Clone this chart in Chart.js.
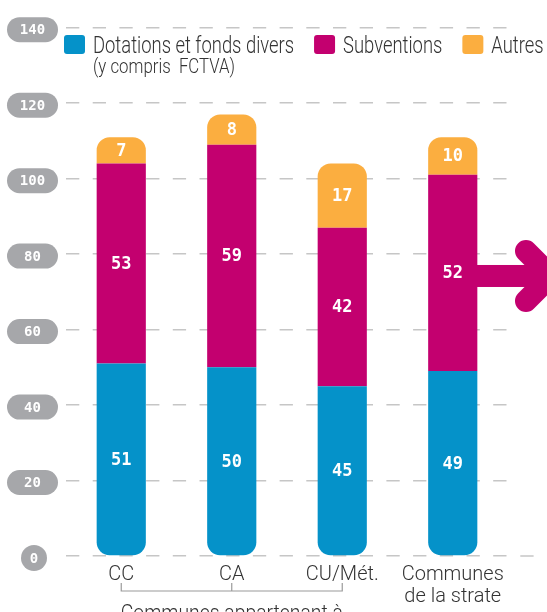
<!DOCTYPE html>
<html>
<head>
<meta charset="utf-8">
<script src="https://cdn.jsdelivr.net/npm/chart.js@4"></script>
<style>
  html, body { margin: 0; padding: 0; background: #fff; }
  #wrap { width: 547px; height: 612px; }
</style>
</head>
<body>
<div id="wrap"><canvas id="chart" width="547" height="612"></canvas></div>
<script>
// data
const categories = ['CC', 'CA', 'CU/Mét.', ['Communes', 'de la strate']];
const dotations = [51, 50, 45, 49];
const subventions = [53, 59, 42, 52];
const autres = [7, 8, 17, 10];
const seriesNames = ['Dotations et fonds divers', 'Subventions', 'Autres'];
const seriesNotes = ['(y compris  FCTVA)', '', ''];
const groupLabel = 'Communes appartenant à';
const yTicks = [0, 20, 40, 60, 80, 100, 120, 140];

const colors = {
    blue: '#0592c9',
    magenta: '#c3006f',
    orange: '#fbae40',
    pill: '#a6a7aa',
    grid: '#c6c6c6',
    text: '#333333'
};
const thinFont = 'Roboto, sans-serif';
const blockFont = '"DejaVu Sans Mono", monospace';

// draws text squeezed horizontally (the original face is a condensed one)
function narrowText(ctx, text, x, y, k) {
    ctx.save();
    ctx.translate(x, y);
    ctx.scale(k, 1);
    ctx.fillText(text, 0, 0);
    ctx.restore();
    return ctx.measureText(text).width * k;
}

// grey pill labels on the y axis
const pillTicks = {
    id: 'pillTicks',
    afterDraw(chart) {
        const ctx = chart.ctx;
        const y = chart.scales.y;
        ctx.save();
        yTicks.forEach((v) => {
            const py = y.getPixelForValue(v) + 2;
            const w = v === 0 ? 26 : 51;
            const h = v === 0 ? 26 : 25;
            const cx = v === 0 ? 34 : 32.5;
            ctx.fillStyle = colors.pill;
            ctx.beginPath();
            ctx.roundRect(cx - w / 2, py - h / 2, w, h, h / 2);
            ctx.fill();
            ctx.fillStyle = '#fff';
            ctx.font = 'bold 14px ' + blockFont;
            ctx.textAlign = 'center';
            ctx.textBaseline = 'middle';
            ctx.fillText(String(v), cx, py + 1);
        });
        // the zero line runs one dash further to the right
        const p0 = y.getPixelForValue(0);
        ctx.strokeStyle = colors.grid;
        ctx.lineWidth = 1.5;
        ctx.beginPath();
        ctx.moveTo(520.3, p0);
        ctx.lineTo(533.6, p0);
        ctx.stroke();
        ctx.restore();
    }
};

// white values inside each segment
const segmentValues = {
    id: 'segmentValues',
    afterDatasetsDraw(chart) {
        const ctx = chart.ctx;
        ctx.save();
        ctx.fillStyle = '#fff';
        ctx.font = 'bold 17px ' + blockFont;
        ctx.textAlign = 'center';
        ctx.textBaseline = 'middle';
        chart.data.datasets.forEach((ds, i) => {
            chart.getDatasetMeta(i).data.forEach((bar, j) => {
                const cy = (bar.y + bar.base) / 2;
                ctx.fillText(String(ds.data[j]), bar.x, cy + 1);
            });
        });
        ctx.restore();
    }
};

// magenta arrow leaving the last bar
const arrow = {
    id: 'arrow',
    afterDatasetsDraw(chart) {
        const ctx = chart.ctx;
        const bar = chart.getDatasetMeta(1).data[3];
        const x0 = bar.x + bar.width / 2 - 1;
        const cy = (bar.y + bar.base) / 2 + 3;
        const tip = chart.width + 4;
        ctx.save();
        ctx.fillStyle = colors.magenta;
        ctx.fillRect(x0, cy - 11, tip - x0, 22);
        ctx.strokeStyle = colors.magenta;
        ctx.lineWidth = 22;
        ctx.lineCap = 'round';
        ctx.lineJoin = 'round';
        ctx.beginPath();
        ctx.moveTo(tip - 25, cy - 25);
        ctx.lineTo(tip, cy);
        ctx.lineTo(tip - 25, cy + 25);
        ctx.stroke();
        ctx.restore();
    }
};

// legend at the top and bracket under the first three bars
const extras = {
    id: 'extras',
    afterDraw(chart) {
        const ctx = chart.ctx;
        ctx.save();
        ctx.textAlign = 'left';
        ctx.textBaseline = 'alphabetic';
        let x = 64;
        chart.data.datasets.forEach((ds, i) => {
            ctx.fillStyle = ds.backgroundColor;
            ctx.beginPath();
            ctx.roundRect(x, 35, 21, 19, 3);
            ctx.fill();
            x += 29;
            ctx.fillStyle = colors.text;
            ctx.font = '300 23px ' + thinFont;
            const w = narrowText(ctx, ds.label, x, 53, 0.8);
            if (seriesNotes[i]) {
                ctx.font = '300 21px ' + thinFont;
                narrowText(ctx, seriesNotes[i], x, 73, 0.8);
            }
            x += w + 20;
        });

        const xs = chart.scales.x;
        const a = xs.getPixelForValue(0);
        const b = xs.getPixelForValue(1);
        const c = xs.getPixelForValue(2);
        ctx.strokeStyle = '#9a9a9a';
        ctx.lineWidth = 1.2;
        ctx.beginPath();
        ctx.moveTo(a, 583);
        ctx.lineTo(a, 591);
        ctx.lineTo(c, 591);
        ctx.lineTo(c, 583);
        ctx.moveTo(b, 591);
        ctx.lineTo(b, 583);
        ctx.stroke();
        ctx.fillStyle = colors.text;
        ctx.font = '300 22px ' + thinFont;
        const gw = ctx.measureText(groupLabel).width * 0.88;
        narrowText(ctx, groupLabel, (a + c) / 2 - gw / 2, 620, 0.88);
        ctx.restore();
    }
};

const radius = 13;
const myChart = new Chart(document.getElementById('chart'), {
    type: 'bar',
    data: {
        labels: categories,
        datasets: [
            {
                label: seriesNames[0],
                data: dotations,
                backgroundColor: colors.blue,
                borderSkipped: false,
                borderRadius: { topLeft: 0, topRight: 0, bottomLeft: radius, bottomRight: radius }
            },
            {
                label: seriesNames[1],
                data: subventions,
                backgroundColor: colors.magenta,
                borderSkipped: false,
                borderRadius: 0
            },
            {
                label: seriesNames[2],
                data: autres,
                backgroundColor: colors.orange,
                borderSkipped: false,
                borderRadius: { topLeft: radius, topRight: radius, bottomLeft: 0, bottomRight: 0 }
            }
        ]
    },
    options: {
        responsive: false,
        animation: false,
        categoryPercentage: 1,
        barPercentage: 0.445,
        layout: { padding: { left: 66, right: 39, top: 27.7, bottom: -3 } },
        plugins: {
            legend: { display: false },
            tooltip: { enabled: false }
        },
        scales: {
            x: {
                stacked: true,
                grid: { display: false, drawTicks: false },
                border: { display: false },
                ticks: {
                    color: colors.text,
                    padding: 7.5,
                    autoSkip: false,
                    maxRotation: 0,
                    minRotation: 0,
                    font: { family: thinFont, size: 20, weight: '300', lineHeight: 1.1 }
                }
            },
            y: {
                stacked: true,
                min: 0,
                max: 140,
                ticks: { display: false, stepSize: 20 },
                grid: { color: colors.grid, lineWidth: 1.5, drawTicks: false },
                border: { display: false, dash: [13.3, 13.4] }
            }
        }
    },
    plugins: [pillTicks, segmentValues, arrow, extras]
});
</script>
</body>
</html>
